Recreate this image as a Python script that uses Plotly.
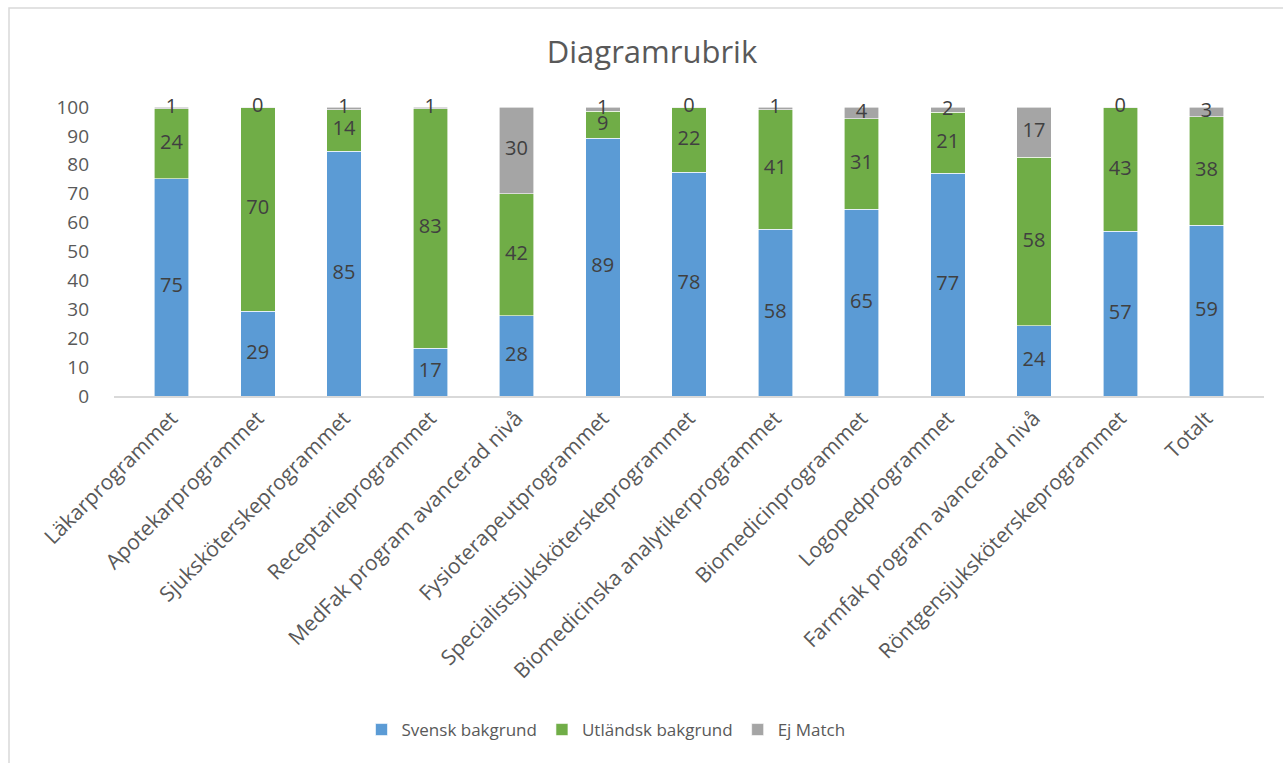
import plotly.graph_objects as go

categories = [
    "Läkarprogrammet", "Apotekarprogrammet", "Sjuksköterskeprogrammet",
    "Receptarieprogrammet", "MedFak program avancerad nivå",
    "Fysioterapeutprogrammet", "Specialistsjuksköterskeprogrammet",
    "Biomedicinska analytikerprogrammet", "Biomedicinprogrammet",
    "Logopedprogrammet", "Farmfak program avancerad nivå",
    "Röntgensjuksköterskeprogrammet", "Totalt",
]
svensk = [75.2, 29.4, 84.7, 16.6, 27.7, 89.2, 77.5, 57.7, 64.6, 77.1, 24.3, 57.0, 59.0]
utlandsk = [24.2, 70.3, 14.4, 82.8, 42.3, 9.4, 22.2, 41.4, 31.3, 21.0, 58.3, 42.7, 37.6]
ej_match = [0.6, 0.3, 0.9, 0.6, 30.0, 1.4, 0.3, 0.9, 4.1, 1.9, 17.4, 0.3, 3.4]

series = [
    ("Svensk bakgrund", svensk, "#5B9BD5"),
    ("Utländsk bakgrund", utlandsk, "#70AD47"),
    ("Ej Match", ej_match, "#A5A5A5"),
]

fig = go.Figure()
base = [0.0] * len(categories)
label_x, label_y, label_t = [], [], []
for name, vals, color in series:
    fig.add_trace(go.Bar(
        x=categories, y=vals, name=name,
        marker=dict(color=color, line=dict(color="white", width=0.6)),
        hoverinfo="x+y+name",
    ))
    for i, v in enumerate(vals):
        label_x.append(categories[i])
        label_y.append(base[i] + v / 2)
        label_t.append(f"{v:.0f}")
        base[i] += v

fig.add_trace(go.Scatter(
    x=label_x, y=label_y, text=label_t, mode="text",
    textfont=dict(family="Open Sans", size=20, color="#404040"),
    showlegend=False, hoverinfo="skip", cliponaxis=False,
))

L, T, W, H = 114, 107, 1150, 289
fig.update_layout(
    barmode="stack", bargap=0.6,
    width=1283, height=763,
    paper_bgcolor="white", plot_bgcolor="white",
    margin=dict(l=L, r=1283 - L - W, t=T, b=763 - T - H, autoexpand=False),
    title=dict(text="Diagramrubrik", x=(652 - L) / W, xref="paper", xanchor="center",
               y=1 - 52 / 763, yanchor="middle",
               font=dict(family="Open Sans", size=31, color="#595959")),
    font=dict(family="Open Sans", color="#595959"),
    showlegend=True,
    legend=dict(orientation="h", x=(606 - L) / W, xanchor="center", y=-(730 - 396) / 289,
                yanchor="middle", font=dict(family="Open Sans", size=17, color="#595959"),
                traceorder="normal", itemwidth=30),
    xaxis=dict(tickangle=-45, tickfont=dict(family="Open Sans", size=21, color="#595959"),
               showline=True, linecolor="#D9D9D9", linewidth=1.5, ticks="", showgrid=False),
    yaxis=dict(range=[0, 100], dtick=10, tickfont=dict(family="Open Sans", size=19, color="#595959"),
               showgrid=False, zeroline=False, showline=False, ticks="", ticklen=0,
               ticklabelstandoff=24),
    shapes=[dict(type="rect", xref="paper", yref="paper",
                 x0=(9 - L) / W, x1=(1300 - L) / W,
                 y0=(396 - 800) / H, y1=(396 - 8) / H,
                 line=dict(color="#D9D9D9", width=1.5), fillcolor="rgba(0,0,0,0)", layer="below")],
)

fig.write_html("out.html", config={"displayModeBar": False},
               post_script="document.body.style.margin='0';")
